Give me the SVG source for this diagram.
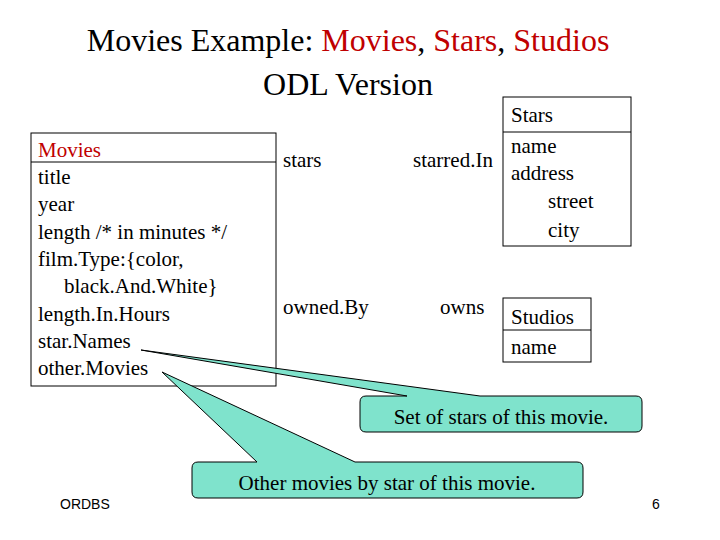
<svg xmlns="http://www.w3.org/2000/svg" width="720" height="540" viewBox="0 0 720 540">
<style>
text{font-family:"Liberation Serif",serif;font-size:21px;fill:#000}
.t{font-size:32px}
.r{fill:#c00000}
.box{fill:#fff;stroke:#000;stroke-width:1}
.co{fill:#7fe3cc;stroke:#000;stroke-width:1}
.s{font-family:"Liberation Sans",sans-serif;font-size:14px}
</style>
<rect width="720" height="540" fill="#fff"/>
<text class="t" x="348" y="51" text-anchor="middle">Movies Example: <tspan class="r">Movies</tspan>, <tspan class="r">Stars</tspan>, <tspan class="r">Studios</tspan></text>
<text class="t" x="348" y="95" text-anchor="middle">ODL Version</text>
<g id="movies">
<rect class="box" x="31" y="133" width="245" height="253"/>
<line x1="31" y1="162" x2="276" y2="162" stroke="#000"/>
<text x="38" y="157" class="r">Movies</text>
<text x="38" y="184">title</text>
<text x="38" y="211">year</text>
<text x="38" y="239">length /* in minutes */</text>
<text x="38" y="266">film.Type:{color,</text>
<text x="64" y="293">black.And.White}</text>
<text x="38" y="321">length.In.Hours</text>
<text x="38" y="348">star.Names</text>
<text x="38" y="375">other.Movies</text>
</g>
<g id="stars">
<rect class="box" x="503" y="97" width="128" height="149"/>
<line x1="503" y1="132" x2="631" y2="132" stroke="#000"/>
<text x="511" y="122">Stars</text>
<text x="511" y="153">name</text>
<text x="511" y="180">address</text>
<text x="548" y="208">street</text>
<text x="548" y="237">city</text>
</g>
<g id="studios">
<rect class="box" x="503" y="298" width="88" height="64"/>
<line x1="503" y1="330" x2="591" y2="330" stroke="#000"/>
<text x="511" y="324">Studios</text>
<text x="511" y="354">name</text>
</g>
<g id="labels">
<text x="283" y="167">stars</text>
<text x="413" y="167">starred.In</text>
<text x="283" y="314">owned.By</text>
<text x="440" y="314">owns</text>
</g>
<g id="connectors">
<path class="co" d="M360,402 Q360,396 366,396 L407,396 L141,350 L480,396 L636,396 Q642,396 642,402 L642,426 Q642,432 636,432 L366,432 Q360,432 360,426 Z"/>
<path class="co" d="M192,468 Q192,462 198,462 L257,462 L162,372 L355,462 L577,462 Q583,462 583,468 L583,492 Q583,498 577,498 L198,498 Q192,498 192,492 Z"/>
</g>
<text x="501" y="424" text-anchor="middle">Set of stars of this movie.</text>
<text x="387" y="490" text-anchor="middle">Other movies by star of this movie.</text>
<text class="s" x="60" y="509">ORDBS</text>
<text class="s" x="652" y="509">6</text>
</svg>
